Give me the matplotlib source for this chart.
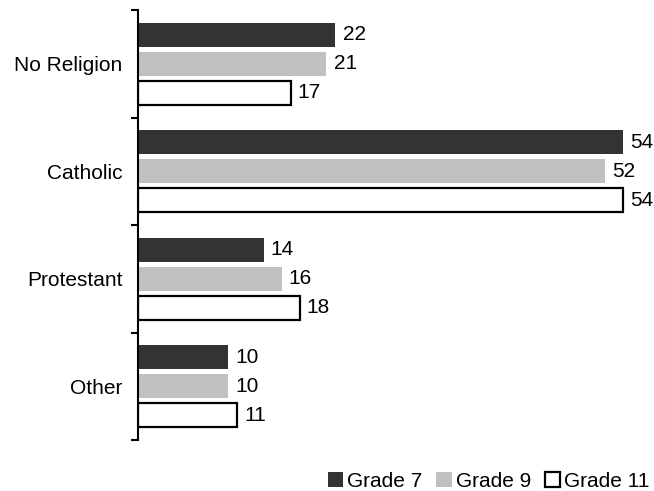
import matplotlib.pyplot as plt
from matplotlib.patches import Patch
import numpy as np

plt.rcParams['font.family'] = ['Liberation Sans', 'DejaVu Sans']

categories = ['No Religion', 'Catholic', 'Protestant', 'Other']
grades = ['Grade 7', 'Grade 9', 'Grade 11']
grade7 = [22, 54, 14, 10]
grade9 = [21, 52, 16, 10]
grade11 = [17, 54, 18, 11]

fills = ['#333333', '#c0c0c0', 'white']
edges = ['#333333', '#c0c0c0', 'black']
lws = [0, 0, 1.6]
fs = 15

fig = plt.figure(figsize=(6.54, 4.91), dpi=100)
ax = fig.add_axes([138 / 654, 1 - 440 / 491, 1 - 138 / 654, 430 / 491])

y = np.arange(len(categories))
offsets = [-0.27, 0, 0.27]
h = 0.222
for vals, off, fc, ec, lw in zip([grade7, grade9, grade11], offsets, fills, edges, lws):
    bars = ax.barh(y + off, vals, height=h, color=fc, edgecolor=ec, linewidth=lw)
    for b, v in zip(bars, vals):
        ax.text(b.get_width() + 0.8, b.get_y() + b.get_height() / 2, str(v),
                va='center', ha='left', fontsize=fs)

ax.set_xlim(0, 57.5)
ax.set_ylim(3.5, -0.5)

# boundary ticks between groups, labels centred on the groups
ax.set_yticks(np.arange(-0.5, 4, 1))
ax.set_yticklabels([])
ax.set_yticks(y, minor=True)
ax.set_yticklabels(categories, minor=True, fontsize=fs)
ax.tick_params(axis='y', which='major', direction='out', length=5, width=1.5)
ax.tick_params(axis='y', which='minor', length=0, pad=11)

ax.set_xticks([])
for s in ['top', 'right', 'bottom']:
    ax.spines[s].set_visible(False)
ax.spines['left'].set_linewidth(1.5)

handles = [Patch(facecolor=fc, edgecolor=ec if lw else fc, linewidth=lw if lw else 0)
           for fc, ec, lw in zip(fills, edges, lws)]
fig.legend(handles, grades, loc='lower right', bbox_to_anchor=(1.0, -0.008), ncol=3,
           frameon=False, fontsize=fs, handlelength=0.75, handleheight=0.75,
           handletextpad=0.2, columnspacing=0.65, borderaxespad=0, borderpad=0.2)

fig.savefig('out.png', dpi=100)
